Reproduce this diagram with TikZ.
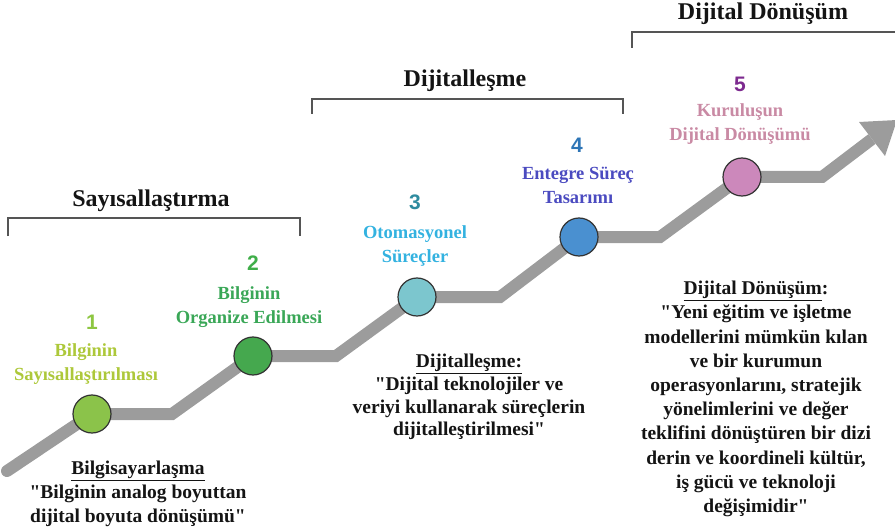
\documentclass[tikz,border=0pt]{standalone}
\usepackage{fontspec}
\setmainfont{Liberation Serif}[Ligatures=TeXOff]
\newfontfamily\serifbf{Liberation Serif}[Ligatures=TeXOff]
\newfontfamily\numfont{Liberation Sans}
\usetikzlibrary{calc}
\definecolor{pathgray}{HTML}{9C9C9C}
\definecolor{brkgray}{HTML}{555555}
\definecolor{txt}{HTML}{141414}
\definecolor{numA}{HTML}{8DC641}
\definecolor{labA}{HTML}{ADC83A}
\definecolor{fillA}{HTML}{8BC34A}
\definecolor{numB}{HTML}{3FAE49}
\definecolor{labB}{HTML}{3AA757}
\definecolor{fillB}{HTML}{45A84E}
\definecolor{numC}{HTML}{2E8B9F}
\definecolor{labC}{HTML}{33B2E0}
\definecolor{fillC}{HTML}{7CC6CE}
\definecolor{numD}{HTML}{2E75B6}
\definecolor{labD}{HTML}{4B4BC0}
\definecolor{fillD}{HTML}{4A90D0}
\definecolor{numE}{HTML}{7D2A8F}
\definecolor{labE}{HTML}{C98AA4}
\definecolor{fillE}{HTML}{CC88BB}
\tikzset{
  dot/.style={circle, draw=black!80, line width=1.2pt, minimum size=38pt, inner sep=0pt},
  road/.style={draw=pathgray, line width=12pt, line join=miter},
  brk/.style={draw=brkgray, line width=1.5pt},
  num/.style={font=\numfont\fontsize{21}{21}\selectfont\bfseries, inner sep=0pt},
  lab/.style={align=center, font=\serifbf\fontsize{18.5}{24}\selectfont\bfseries, inner sep=0pt},
  desc/.style={align=center, text=txt, font=\serifbf\fontsize{19.5}{24.2}\selectfont\bfseries, inner sep=0pt},
  descB/.style={align=center, text=txt, font=\serifbf\fontsize{19.5}{22.8}\selectfont\bfseries, inner sep=0pt},
  head/.style={text=txt, font=\serifbf\fontsize{24}{28}\selectfont\bfseries, inner sep=0pt}
}
\begin{document}
\begin{tikzpicture}[x=1pt,y=-1pt]
\useasboundingbox (0,0) rectangle (895,532);
% road coordinates
\coordinate (p0) at (7,471);
\coordinate (h1) at (172,414);
\coordinate (h2) at (336,356);
\coordinate (h3) at (500,297);
\coordinate (h4) at (660,237);
\coordinate (h5) at (822,177);
\coordinate (ab) at (872,139);
\coordinate (aL) at (859,122);
\coordinate (aR) at (885,156);
\coordinate (at) at (897,120);
% circle positions
\coordinate (k1) at (92,414);
\coordinate (k2) at (253,356);
\coordinate (k3) at (417,297);
\coordinate (k4) at (579,237);
\coordinate (k5) at (742,177);
% road
\draw[road, line cap=round] (p0) -- (k1);
\draw[road] (k1) -- (h1) -- (k2) -- (h2) -- (k3) -- (h3) -- (k4) -- (h4) -- (k5) -- (h5) -- (ab);
\fill[pathgray] (aL) -- (at) -- (aR) -- cycle;
% circles
\node[dot, fill=fillA] (c1) at (k1) {};
\node[dot, fill=fillB] (c2) at (k2) {};
\node[dot, fill=fillC] (c3) at (k3) {};
\node[dot, fill=fillD] (c4) at (k4) {};
\node[dot, fill=fillE] (c5) at (k5) {};
% numbers and labels
\node[num, text=numA] (n1) at (92,322) {1};
\node[lab, text=labA] (l1) at (86,364) {Bilginin\\Sayısallaştırılması};
\node[num, text=numB] (n2) at (253,263) {2};
\node[lab, text=labB] (l2) at (249,307) {Bilginin\\Organize Edilmesi};
\node[num, text=numC] (n3) at (415,202) {3};
\node[lab, text=labC] (l3) at (415,246) {Otomasyonel\\Süreçler};
\node[num, text=numD] (n4) at (577,145) {4};
\node[lab, text=labD] (l4) at (578,185) {Entegre Süreç\\Tasarımı};
\node[num, text=numE] (n5) at (740,84) {5};
\node[lab, text=labE] (l5) at (740,124) {Kuruluşun\\Dijital Dönüşümü};
% brackets
\draw[brk] (8,236) |- (300,218) -- (300,236);
\draw[brk] (312,114) |- (623,99) -- (623,114);
\draw[brk] (632,48) |- (895,32);
\node[head] (t1) at (151,201) {Sayısallaştırma};
\node[head] (t2) at (465,81) {Dijitalleşme};
\node[head] (t3) at (763,14) {Dijital Dönüşüm};
% descriptions
\node[desc] (d1) at (138,494) {\underline{Bilgisayarlaşma}\\"Bilginin analog boyuttan\\dijital boyuta dönüşümü"};
\node[descB] (d2) at (469,397) {\underline{Dijitalleşme:}\\"Dijital teknolojiler ve\\veriyi kullanarak süreçlerin\\dijitalleştirilmesi"};
\node[desc] (d3) at (756,399) {\underline{Dijital Dönüşüm}:\\"Yeni eğitim ve işletme\\modellerini mümkün kılan\\ve bir kurumun\\operasyonlarını, stratejik\\yönelimlerini ve değer\\teklifini dönüştüren bir dizi\\derin ve koordineli kültür,\\iş gücü ve teknoloji\\değişimidir"};
\end{tikzpicture}
\end{document}
